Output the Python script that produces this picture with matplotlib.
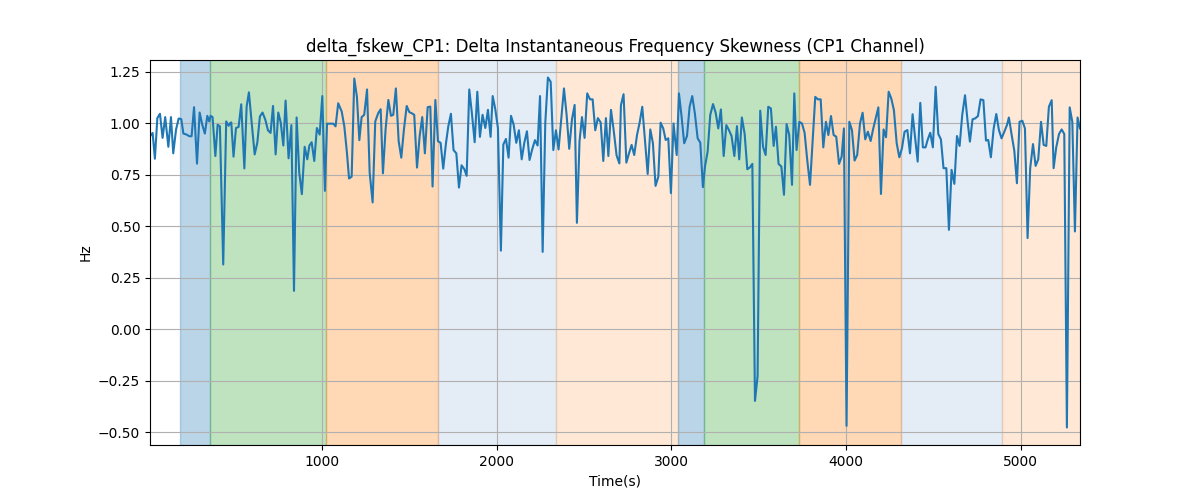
import matplotlib
matplotlib.use("Agg")
import matplotlib.pyplot as plt

# time (s) and delta frequency skewness (Hz)
time_s = [16, 31, 44, 58, 73, 88, 103, 121, 136, 149, 165, 180, 195, 207, 226, 241, 254, 268,
          285, 300, 315, 330, 344, 355, 363, 374, 390, 403, 416, 435, 452, 466, 475, 481, 494,
          508, 523, 538, 556, 569, 582, 598, 615, 630, 645, 660, 676, 691, 706, 720, 735, 750,
          764, 779, 792, 809, 825, 840, 855, 870, 885, 901, 916, 928, 941, 956, 971, 987, 1002,
          1017, 1029, 1046, 1065, 1078, 1093, 1113, 1128, 1143, 1155, 1170, 1185, 1200, 1214,
          1227, 1242, 1258, 1273, 1290, 1305, 1322, 1336, 1349, 1364, 1380, 1395, 1408, 1423,
          1439, 1454, 1469, 1485, 1500, 1513, 1528, 1544, 1559, 1574, 1589, 1605, 1620, 1633,
          1649, 1664, 1679, 1694, 1710, 1723, 1738, 1753, 1769, 1784, 1799, 1815, 1828, 1843,
          1858, 1874, 1889, 1904, 1919, 1935, 1950, 1965, 1977, 1992, 2007, 2024, 2038, 2053,
          2068, 2082, 2097, 2112, 2127, 2143, 2158, 2173, 2188, 2204, 2219, 2234, 2248, 2263,
          2278, 2293, 2309, 2324, 2339, 2354, 2370, 2385, 2400, 2415, 2431, 2446, 2459, 2474,
          2488, 2503, 2518, 2534, 2549, 2564, 2579, 2595, 2610, 2625, 2639, 2654, 2669, 2686,
          2702, 2711, 2726, 2742, 2757, 2772, 2787, 2803, 2818, 2833, 2848, 2864, 2879, 2894,
          2909, 2925, 2938, 2953, 2967, 2982, 2997, 3012, 3030, 3043, 3058, 3073, 3089, 3104,
          3119, 3134, 3150, 3165, 3180, 3192, 3207, 3222, 3238, 3253, 3268, 3283, 3299, 3314,
          3329, 3344, 3360, 3375, 3388, 3403, 3419, 3434, 3449, 3463, 3478, 3493, 3508, 3524,
          3539, 3554, 3569, 3585, 3598, 3613, 3629, 3644, 3659, 3674, 3690, 3703, 3716, 3732,
          3747, 3762, 3777, 3793, 3808, 3823, 3838, 3854, 3869, 3884, 3898, 3913, 3928, 3943,
          3959, 3974, 3987, 4002, 4018, 4033, 4048, 4063, 4079, 4094, 4109, 4124, 4140, 4155,
          4170, 4184, 4199, 4214, 4228, 4243, 4258, 4273, 4289, 4304, 4319, 4334, 4350, 4365,
          4380, 4395, 4409, 4424, 4439, 4454, 4466, 4481, 4496, 4512, 4527, 4542, 4557, 4573,
          4588, 4603, 4619, 4634, 4649, 4664, 4680, 4695, 4708, 4723, 4739, 4754, 4769, 4785,
          4800, 4813, 4828, 4844, 4859, 4874, 4889, 4905, 4920, 4931, 4947, 4962, 4977, 4992,
          5008, 5023, 5038, 5053, 5069, 5084, 5099, 5115, 5130, 5145, 5160, 5176, 5187, 5202,
          5218, 5233, 5248, 5263, 5279, 5294, 5309, 5324, 5338]

skew_hz = [0.936, 0.952, 0.827, 1.024, 1.045, 0.928, 1.029, 0.885, 1.029, 0.853, 0.968, 1.022,
           1.019, 0.949, 0.944, 0.936, 0.936, 1.077, 0.803, 1.051, 0.992, 0.949, 1.035, 1.008,
           1.035, 1.029, 0.840, 0.992, 0.984, 0.314, 1.008, 0.987, 1.000, 1.003, 0.837, 0.976,
           0.981, 1.091, 0.780, 1.080, 1.149, 1.000, 0.848, 0.904, 1.032, 1.051, 1.016, 0.965,
           0.952, 1.083, 0.848, 1.051, 1.003, 0.891, 1.109, 0.829, 0.990, 0.186, 1.027, 0.760,
           0.655, 0.885, 0.824, 0.891, 0.907, 0.816, 0.976, 0.944, 1.131, 0.671, 0.997, 0.997,
           0.997, 0.984, 1.096, 1.056, 0.984, 0.856, 0.731, 0.740, 1.216, 1.128, 0.917, 1.029,
           1.040, 1.163, 0.760, 0.615, 1.008, 1.048, 1.067, 0.756, 0.968, 1.112, 1.035, 1.040,
           1.168, 0.912, 0.832, 0.968, 1.083, 1.053, 1.048, 1.040, 0.784, 0.936, 1.029, 0.853,
           1.077, 1.080, 0.692, 1.112, 0.912, 0.904, 0.779, 0.904, 0.984, 1.045, 0.869, 0.853,
           0.687, 0.795, 0.776, 0.744, 1.163, 1.048, 0.907, 1.152, 0.933, 1.040, 0.976, 1.064,
           0.933, 1.131, 1.067, 0.976, 0.381, 0.896, 0.923, 0.832, 1.035, 0.992, 0.904, 0.965,
           0.824, 0.904, 0.960, 0.821, 0.875, 0.917, 0.891, 1.131, 0.375, 1.000, 1.221, 1.200,
           0.869, 0.965, 0.872, 1.024, 1.168, 1.040, 0.875, 1.019, 1.088, 0.516, 0.912, 1.029,
           0.928, 1.144, 1.115, 1.115, 0.965, 1.024, 1.003, 0.816, 1.024, 0.840, 1.064, 0.968,
           0.843, 0.804, 1.087, 1.140, 0.808, 0.853, 0.894, 0.845, 0.942, 1.002, 1.079, 0.918,
           0.753, 0.969, 0.902, 0.695, 0.740, 1.002, 0.974, 0.918, 0.926, 0.660, 0.998, 0.845,
           1.144, 1.031, 0.902, 0.937, 1.079, 1.131, 1.047, 0.926, 0.905, 0.689, 0.789, 0.861,
           1.039, 1.092, 1.050, 0.974, 1.066, 0.840, 0.990, 0.966, 0.937, 0.840, 0.985, 0.824,
           1.027, 0.947, 0.776, 0.785, 0.802, -0.348, -0.227, 1.060, 0.885, 0.845, 1.079, 1.071,
           0.889, 0.982, 0.802, 0.789, 0.652, 0.995, 0.942, 0.700, 1.144, 0.869, 1.006, 0.998,
           0.953, 0.821, 0.700, 0.918, 1.127, 1.115, 1.115, 0.882, 1.006, 0.942, 1.034, 0.942,
           0.934, 0.802, 0.837, 0.974, -0.469, 1.006, 0.966, 0.818, 0.845, 0.998, 1.050, 0.921,
           0.958, 0.913, 0.974, 1.027, 1.076, 0.656, 0.969, 0.931, 1.152, 1.119, 1.063, 0.902,
           0.834, 0.877, 0.958, 0.966, 0.853, 1.043, 0.926, 0.813, 1.098, 0.882, 0.882, 0.918,
           0.953, 0.882, 1.176, 0.947, 0.921, 0.781, 0.781, 0.482, 0.773, 0.705, 0.937, 0.889,
           1.039, 1.135, 1.006, 0.910, 1.018, 1.023, 1.034, 1.115, 1.111, 0.915, 0.918, 0.834,
           0.974, 1.044, 0.966, 0.926, 0.958, 0.990, 1.027, 0.942, 0.866, 0.708, 1.006, 1.011,
           0.974, 0.442, 0.781, 0.898, 0.792, 0.824, 1.006, 0.894, 0.889, 1.079, 1.111, 0.781,
           0.882, 0.947, 0.969, 0.947, -0.477, 1.076, 1.006, 0.474, 1.027, 0.974]

# shaded phases: start, end, colour, alpha
phase_start = [187, 361, 1025, 1666, 2339, 3039, 3188, 3731, 4312, 4893]
phase_end = [361, 1021, 1666, 2339, 3039, 3188, 3731, 4312, 4893, 5338]
phase_color = ['tab:blue', 'tab:green', 'tab:orange', '#5080c3', 'tab:orange',
               'tab:blue', 'tab:green', 'tab:orange', '#5080c3', 'tab:orange']
phase_alpha = [0.3, 0.3, 0.3, 0.15, 0.17, 0.3, 0.3, 0.3, 0.15, 0.17]

fig, ax = plt.subplots(figsize=(12, 5), dpi=100)

for s, e, c, a in zip(phase_start, phase_end, phase_color, phase_alpha):
    ax.axvspan(s, e, color=c, alpha=a)

ax.plot(time_s, skew_hz, color='tab:blue')
ax.set_xlim(time_s[0], time_s[-1])
ax.grid(True)

ax.set_title("delta_fskew_CP1: Delta Instantaneous Frequency Skewness (CP1 Channel)")
ax.set_xlabel("Time(s)")
ax.set_ylabel("Hz")

fig.savefig("out.png")
